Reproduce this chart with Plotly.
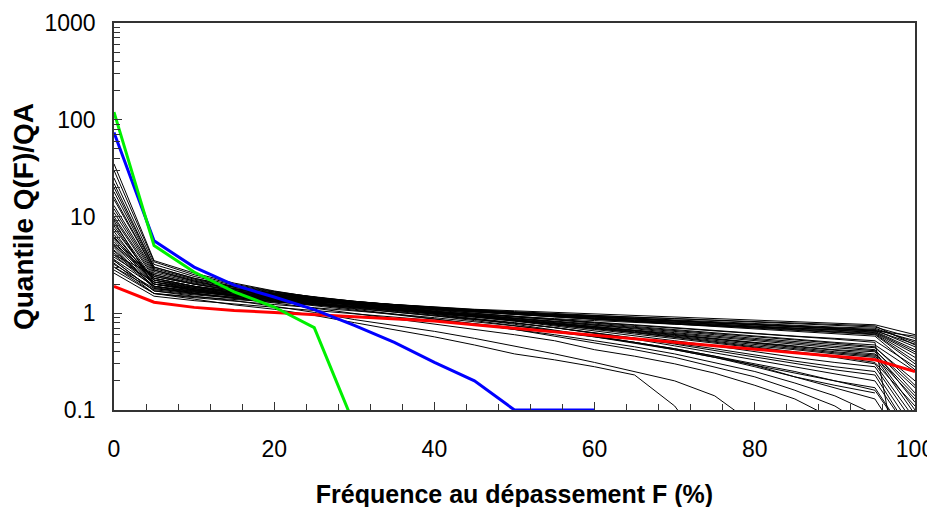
import plotly.graph_objects as go

F = [0, 5, 10, 15, 20, 25, 30, 35, 40, 45, 50, 55, 60, 65, 70, 75, 80, 85, 90, 95, 100]

# Black curves (individual stations), values of Q(F)/QA at each F
black_curves = [
    [4.5, 2.0, 1.75, 1.6, 1.48, 1.38, 1.3, 1.22, 1.16, 1.1, 1.06, 1.02, 0.99, 0.95, 0.92, 0.89, 0.85, 0.82, 0.79, 0.76, 0.60],
    [6.0, 2.3, 1.9, 1.7, 1.55, 1.42, 1.32, 1.23, 1.15, 1.09, 1.04, 0.99, 0.95, 0.91, 0.88, 0.84, 0.81, 0.78, 0.75, 0.72, 0.55],
    [3.8, 2.1, 1.85, 1.65, 1.5, 1.38, 1.28, 1.2, 1.13, 1.07, 1.02, 0.97, 0.93, 0.89, 0.85, 0.82, 0.78, 0.75, 0.72, 0.70, 0.50],
    [12, 2.6, 2.1, 1.8, 1.6, 1.45, 1.33, 1.23, 1.14, 1.07, 1.01, 0.96, 0.91, 0.87, 0.83, 0.79, 0.76, 0.73, 0.70, 0.67, 0.45],
    [5.2, 2.4, 2.0, 1.75, 1.56, 1.42, 1.31, 1.22, 1.14, 1.08, 1.02, 0.97, 0.92, 0.88, 0.84, 0.8, 0.77, 0.74, 0.71, 0.68, 0.52],
    [9, 1.9, 1.7, 1.55, 1.44, 1.34, 1.26, 1.18, 1.11, 1.05, 1.0, 0.95, 0.91, 0.87, 0.83, 0.79, 0.76, 0.72, 0.69, 0.66, 0.48],
    [3.2, 1.8, 1.65, 1.52, 1.42, 1.33, 1.25, 1.18, 1.12, 1.06, 1.01, 0.96, 0.92, 0.88, 0.84, 0.8, 0.76, 0.73, 0.70, 0.65, 0.42],
    [15, 2.8, 2.2, 1.85, 1.62, 1.46, 1.33, 1.22, 1.13, 1.06, 1.0, 0.94, 0.89, 0.85, 0.81, 0.77, 0.73, 0.7, 0.67, 0.64, 0.40],
    [7.5, 2.2, 1.9, 1.68, 1.52, 1.39, 1.29, 1.2, 1.12, 1.05, 0.99, 0.94, 0.89, 0.85, 0.81, 0.77, 0.74, 0.7, 0.67, 0.63, 0.38],
    [4.0, 2.5, 2.05, 1.78, 1.58, 1.43, 1.31, 1.21, 1.12, 1.05, 0.99, 0.93, 0.88, 0.84, 0.8, 0.76, 0.72, 0.69, 0.66, 0.62, 0.35],
    [20, 3.0, 2.3, 1.9, 1.65, 1.47, 1.33, 1.22, 1.12, 1.04, 0.98, 0.92, 0.87, 0.83, 0.79, 0.75, 0.71, 0.68, 0.64, 0.61, 0.32],
    [5.5, 2.0, 1.8, 1.62, 1.48, 1.37, 1.27, 1.18, 1.1, 1.03, 0.97, 0.92, 0.87, 0.82, 0.78, 0.74, 0.7, 0.67, 0.63, 0.60, 0.30],
    [10, 2.4, 2.0, 1.72, 1.52, 1.37, 1.25, 1.15, 1.07, 1.0, 0.93, 0.87, 0.81, 0.76, 0.71, 0.66, 0.62, 0.58, 0.55, 0.52, 0.28],
    [3.5, 1.7, 1.55, 1.42, 1.32, 1.24, 1.17, 1.1, 1.04, 0.98, 0.92, 0.86, 0.8, 0.75, 0.7, 0.65, 0.61, 0.57, 0.54, 0.50, 0.003],
    [25, 3.2, 2.4, 1.95, 1.66, 1.46, 1.31, 1.19, 1.09, 1.0, 0.92, 0.85, 0.79, 0.73, 0.68, 0.63, 0.58, 0.54, 0.5, 0.47, 0.25],
    [6.5, 2.2, 1.85, 1.62, 1.45, 1.32, 1.21, 1.12, 1.04, 0.97, 0.9, 0.84, 0.78, 0.72, 0.67, 0.62, 0.57, 0.53, 0.49, 0.45, 0.18],
    [4.2, 1.9, 1.68, 1.5, 1.37, 1.26, 1.17, 1.09, 1.02, 0.95, 0.88, 0.82, 0.76, 0.7, 0.65, 0.6, 0.55, 0.51, 0.47, 0.44, 0.20],
    [13, 2.7, 2.15, 1.8, 1.56, 1.39, 1.25, 1.14, 1.05, 0.97, 0.89, 0.82, 0.75, 0.69, 0.63, 0.58, 0.53, 0.49, 0.45, 0.42, 0.15],
    [8, 2.1, 1.8, 1.58, 1.42, 1.29, 1.18, 1.09, 1.01, 0.93, 0.86, 0.79, 0.73, 0.67, 0.62, 0.57, 0.52, 0.48, 0.44, 0.41, 0.17],
    [30, 3.4, 2.5, 2.0, 1.68, 1.46, 1.29, 1.16, 1.05, 0.96, 0.88, 0.8, 0.73, 0.67, 0.61, 0.55, 0.5, 0.46, 0.42, 0.40, 0.12],
    [5.0, 2.3, 1.9, 1.64, 1.46, 1.32, 1.2, 1.1, 1.01, 0.93, 0.85, 0.78, 0.71, 0.65, 0.59, 0.54, 0.49, 0.45, 0.41, 0.38, 0.14],
    [2.8, 1.6, 1.48, 1.38, 1.3, 1.22, 1.15, 1.08, 1.01, 0.94, 0.86, 0.79, 0.72, 0.66, 0.6, 0.54, 0.49, 0.44, 0.4, 0.37, 0.10],
    [18, 2.9, 2.25, 1.86, 1.6, 1.41, 1.26, 1.14, 1.04, 0.95, 0.86, 0.78, 0.71, 0.64, 0.58, 0.52, 0.47, 0.43, 0.39, 0.36, 0.13],
    [7, 2.0, 1.75, 1.55, 1.4, 1.27, 1.16, 1.07, 0.99, 0.91, 0.83, 0.76, 0.69, 0.63, 0.57, 0.51, 0.46, 0.42, 0.38, 0.35, 0.09],
    [11, 2.5, 2.0, 1.7, 1.5, 1.35, 1.22, 1.11, 1.02, 0.93, 0.85, 0.77, 0.7, 0.63, 0.56, 0.5, 0.45, 0.4, 0.36, 0.31, 0.11],
    [3.0, 1.75, 1.58, 1.45, 1.34, 1.25, 1.16, 1.08, 1.0, 0.92, 0.84, 0.76, 0.68, 0.61, 0.55, 0.49, 0.44, 0.39, 0.35, 0.30, 0.08],
    [35, 3.5, 2.6, 2.05, 1.7, 1.46, 1.28, 1.14, 1.02, 0.92, 0.83, 0.74, 0.66, 0.59, 0.52, 0.46, 0.4, 0.35, 0.31, 0.28, 0.07],
    [9.5, 2.3, 1.9, 1.62, 1.43, 1.28, 1.16, 1.05, 0.96, 0.87, 0.79, 0.71, 0.63, 0.56, 0.49, 0.43, 0.37, 0.32, 0.28, 0.25, 0.06],
    [4.8, 1.8, 1.6, 1.45, 1.33, 1.22, 1.12, 1.03, 0.95, 0.87, 0.79, 0.71, 0.63, 0.55, 0.48, 0.41, 0.35, 0.3, 0.26, 0.23, 0.05],
    [16, 2.8, 2.15, 1.78, 1.52, 1.34, 1.2, 1.08, 0.98, 0.89, 0.8, 0.71, 0.62, 0.54, 0.46, 0.39, 0.33, 0.28, 0.24, 0.20, 0.05],
    [6.2, 2.0, 1.72, 1.52, 1.37, 1.25, 1.14, 1.04, 0.94, 0.84, 0.75, 0.66, 0.57, 0.49, 0.42, 0.35, 0.29, 0.24, 0.2, 0.17, 0.04],
    [22, 3.0, 2.3, 1.88, 1.6, 1.4, 1.24, 1.1, 0.98, 0.87, 0.77, 0.67, 0.58, 0.5, 0.42, 0.35, 0.28, 0.22, 0.18, 0.15, None],
    [3.3, 1.6, 1.45, 1.33, 1.23, 1.14, 1.06, 0.98, 0.9, 0.82, 0.74, 0.66, 0.58, 0.5, 0.43, 0.36, 0.29, 0.22, 0.17, 0.13, 0.03],
    [3.0, 1.6, 1.4, 1.22, 1.1, 0.95, 0.8, 0.68, 0.57, 0.47, 0.38, 0.33, 0.28, 0.23, 0.11, 0.03, None, None, None, None, None],
    [3.5, 1.7, 1.5, 1.35, 1.18, 1.02, 0.86, 0.75, 0.65, 0.55, 0.46, 0.38, 0.31, 0.25, 0.2, 0.14, 0.07, None, None, None, None],
    [4.4, 1.9, 1.62, 1.42, 1.28, 1.13, 1.0, 0.88, 0.78, 0.68, 0.6, 0.52, 0.42, 0.36, 0.3, 0.24, 0.18, 0.13, 0.08, None, None],
    [8.5, 2.2, 1.8, 1.55, 1.38, 1.24, 1.1, 0.98, 0.88, 0.78, 0.68, 0.58, 0.5, 0.42, 0.35, 0.28, 0.22, 0.16, 0.11, 0.06, None],
    [5.8, 2.1, 1.75, 1.5, 1.33, 1.2, 1.08, 0.97, 0.87, 0.77, 0.68, 0.6, 0.52, 0.45, 0.38, 0.31, 0.25, 0.19, 0.14, 0.09, None],
    [2.6, 1.5, 1.35, 1.25, 1.16, 1.08, 1.0, 0.92, 0.85, 0.78, 0.71, 0.64, 0.57, 0.5, 0.43, 0.36, 0.3, 0.25, 0.2, 0.16, 0.04],
    [4.0, 1.85, 1.6, 1.45, 1.34, 1.25, 1.17, 1.1, 1.04, 0.98, 0.93, 0.88, 0.84, 0.8, 0.77, 0.74, 0.72, 0.7, 0.68, 0.66, 0.58],
    [5.0, 2.0, 1.72, 1.55, 1.43, 1.33, 1.25, 1.18, 1.12, 1.07, 1.02, 0.98, 0.94, 0.91, 0.88, 0.85, 0.82, 0.79, 0.77, 0.74, 0.47],
    [3.6, 1.9, 1.66, 1.5, 1.39, 1.3, 1.22, 1.15, 1.09, 1.03, 0.97, 0.92, 0.87, 0.82, 0.77, 0.73, 0.69, 0.65, 0.62, 0.58, 0.26],
]

red_curve = [1.9, 1.3, 1.15, 1.07, 1.02, 0.97, 0.92, 0.88, 0.83, 0.76, 0.70, 0.65, 0.60, 0.55, 0.505, 0.465, 0.425, 0.39, 0.36, 0.33, 0.25]
blue_curve = [74, 5.6, 3.0, 1.95, 1.47, 1.09, 0.75, 0.50, 0.31, 0.20, 0.1, 0.1, 0.1, None, None, None, None, None, None, None, None]
green_curve = [120, 5.0, 2.67, 1.66, 1.16, 0.71, 0.07, None, None, None, None, None, None, None, None, None, None, None, None, None, None]

x_ticks = [0, 20, 40, 60, 80, 100]
x_tick_labels = ["0", "20", "40", "60", "80", "100"]
y_ticks = [0.1, 1, 10, 100, 1000]
y_tick_labels = ["0.1", "1", "10", "100", "1000"]

fig = go.Figure()
for c in black_curves:
    fig.add_trace(go.Scatter(x=F, y=c, mode="lines", line=dict(color="black", width=1),
                             showlegend=False, hoverinfo="skip", connectgaps=False))
fig.add_trace(go.Scatter(x=F, y=red_curve, mode="lines", line=dict(color="#FF0000", width=3), showlegend=False))
fig.add_trace(go.Scatter(x=F, y=blue_curve, mode="lines", line=dict(color="#0000FF", width=3), showlegend=False))
fig.add_trace(go.Scatter(x=F, y=green_curve, mode="lines", line=dict(color="#00F000", width=3), showlegend=False))

font_family = "Liberation Sans, Arial, sans-serif"
fig.update_layout(
    width=935, height=507,
    margin=dict(l=106, r=28, t=15, b=105),
    plot_bgcolor="white", paper_bgcolor="white",
    font=dict(family=font_family, color="black", size=22),
    showlegend=False,
)
fig.update_xaxes(
    range=[0, 100], tickvals=x_ticks, ticktext=x_tick_labels,
    ticks="inside", ticklen=8, tickcolor="#333", tickwidth=1,
    minor=dict(ticks="inside", ticklen=6, dtick=4, tickcolor="#333", showgrid=False),
    showline=True, linecolor="#333", linewidth=1.5, mirror=True,
    showgrid=False, zeroline=False, automargin=False,
    tickfont=dict(size=23), ticklabelstandoff=18,
    title=dict(text="<b>Fréquence au dépassement F (%)</b>", font=dict(size=25), standoff=24),
)
fig.update_yaxes(
    type="log", range=[-1, 3], tickvals=y_ticks, ticktext=y_tick_labels,
    ticks="inside", ticklen=8, tickcolor="#333", tickwidth=1,
    minor=dict(ticks="inside", ticklen=6, dtick="D1", tickcolor="#333", showgrid=False),
    showline=True, linecolor="#333", linewidth=1.5, mirror=True,
    showgrid=False, zeroline=False, automargin=False,
    tickfont=dict(size=23), ticklabelstandoff=12,
    title=dict(text="<b>Quantile Q(F)/QA</b>", font=dict(size=28), standoff=8),
)
fig.write_html("out.html")
